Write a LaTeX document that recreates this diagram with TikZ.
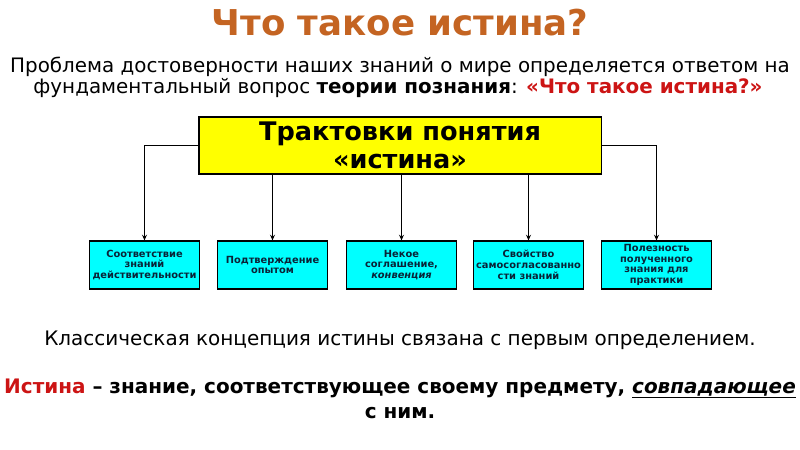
\documentclass[tikz,border=0pt]{standalone}
\usepackage{fontspec}
\setmainfont{DejaVu Sans}
\usetikzlibrary{arrows.meta}
\definecolor{titlebrown}{RGB}{196,100,34}
\definecolor{truthred}{RGB}{204,20,20}
\definecolor{boxyellow}{RGB}{255,255,0}
\definecolor{boxcyan}{RGB}{0,255,255}
\definecolor{boxink}{RGB}{10,35,55}

\begin{document}
\begin{tikzpicture}[x=0.025cm, y=-0.025cm,
    box/.style={draw, line width=0.8pt, inner sep=1pt, text centered, align=center},
    master/.style={box, fill=boxyellow, minimum width=10.05cm, minimum height=1.425cm, font=\bfseries\fontsize{18.2}{20}\selectfont},
    sub/.style={box, fill=boxcyan, minimum width=2.75cm, minimum height=1.2cm, text=boxink, font=\bfseries\fontsize{7}{7.7}\selectfont},
    txt/.style={anchor=base, inner sep=0pt},
    >={Stealth[length=4pt,width=3.5pt]}
]
\useasboundingbox (0,0) rectangle (800,449);

\node[txt, text=titlebrown, font=\bfseries\fontsize{25.3}{28}\selectfont] (title) at (400,35) {Что такое истина?};

\node[txt, font=\fontsize{14.15}{15}\selectfont] (problem1) at (400,72) {Проблема достоверности наших знаний о мире определяется ответом на};
\node[txt, font=\fontsize{14.15}{15}\selectfont] (problem2) at (398,93) {фундаментальный вопрос \textbf{теории познания}: \textcolor{truthred}{\textbf{«Что такое истина?»}}};

\node[master] (main) at (400,145.5) {Трактовки понятия\\«истина»};

\node[sub] (match) at (144.5,265) {Соответствие\\знаний\\действительности};
\node[sub] (proof) at (272.5,265) {Подтверждение\\опытом};
\node[sub] (accord) at (401.5,265) {Некое\\соглашение,\\\textit{конвенция}};
\node[sub] (coher) at (528.5,265) {Свойство\\самосогласованно\\сти знаний};
\node[sub] (useful) at (656.5,265) {Полезность\\полученного\\знания для\\практики};

\draw[->, line width=0.7pt] (main.west) -| (match.north);
\draw[->, line width=0.7pt] (proof.north |- main.south) -- (proof.north);
\draw[->, line width=0.7pt] (accord.north |- main.south) -- (accord.north);
\draw[->, line width=0.7pt] (coher.north |- main.south) -- (coher.north);
\draw[->, line width=0.7pt] (main.east) -| (useful.north);

\node[txt, font=\fontsize{14.2}{15}\selectfont] (classic) at (400,345) {Классическая концепция истины связана с первым определением.};

\node[txt, font=\bfseries\fontsize{14.2}{15}\selectfont] (define1) at (400,393) {\textcolor{truthred}{Истина} – знание, соответствующее своему предмету, \underline{\textit{совпадающее}}};
\node[txt, font=\bfseries\fontsize{14.2}{15}\selectfont] (define2) at (400,418) {с ним.};

\end{tikzpicture}
\end{document}
